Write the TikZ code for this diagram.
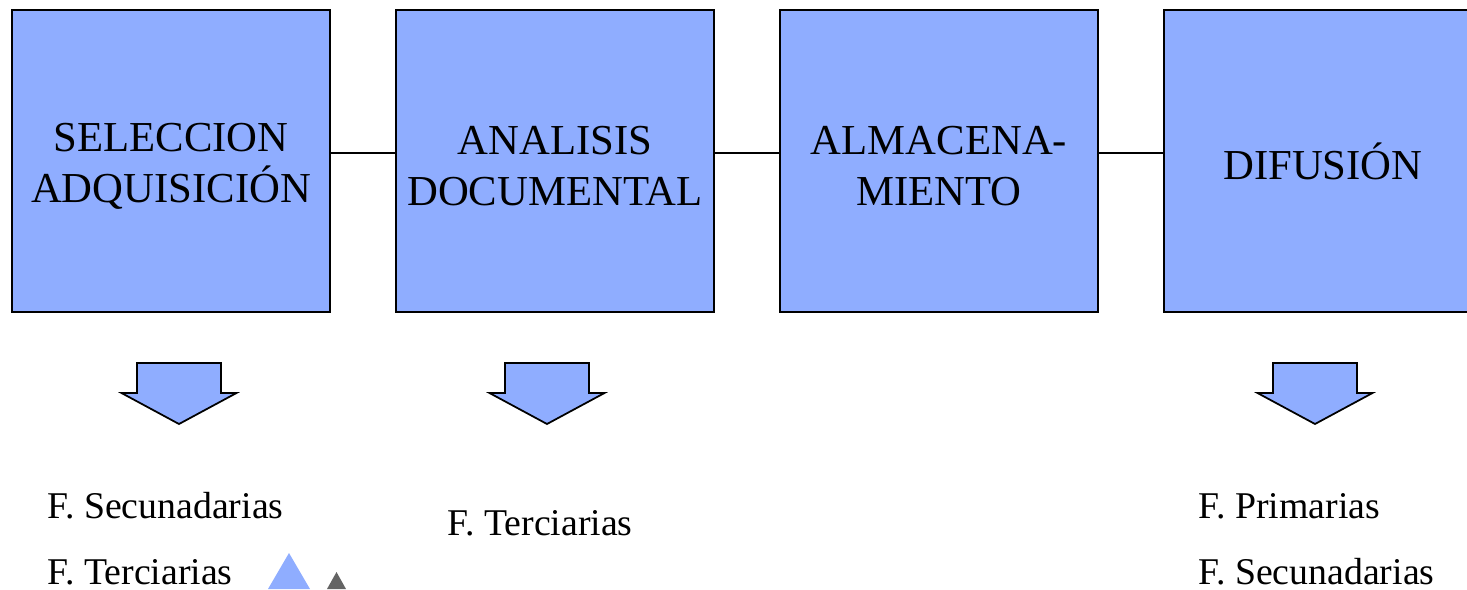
\documentclass[tikz,border=0pt]{standalone}
\usepackage{fontspec}
\setmainfont{Liberation Serif}
\usepackage{xcolor}
\usepackage{tikz}

\definecolor{boxblue}{RGB}{143,173,255}
\definecolor{tridark}{RGB}{100,100,100}

\begin{document}
\begin{tikzpicture}[x=0.02cm, y=-0.02cm,
  stage/.style={draw, line width=1pt, fill=boxblue, minimum width=6.36cm,
    minimum height=6.04cm, inner sep=0pt},
  stagetext/.style={align=center, inner sep=0pt, font=\fontsize{24.3}{29}\selectfont},
  source/.style={anchor=base west, inner sep=0pt, font=\fontsize{21.5}{25}\selectfont},
  downarrow/.style={draw, line width=1pt, fill=boxblue, line join=miter}]
 \useasboundingbox (0, 0) rectangle (1467, 589);
 % the four stages
 \node [stage] (sel) at (171, 161) {};
 \node [stage] (ana) at (555, 161) {};
 \node [stage] (alm) at (939, 161) {};
 \node [stage] (dif) at (1323, 161) {};
 \node [stagetext] (seltext) at ([yshift=-0.1cm]sel.center) {SELECCION\\ADQUISICIÓN};
 \node [stagetext] (anatext) at ([yshift=-0.1cm]ana.center) {ANALISIS\\DOCUMENTAL};
 \node [stagetext] (almtext) at ([yshift=-0.1cm]alm.center) {ALMACENA-\\MIENTO};
 \node [stagetext] (diftext) at (dif.center) {DIFUSIÓN};
 \draw [line width=1pt] ([yshift=0.16cm]sel.east) -- ([yshift=0.16cm]ana.west);
 \draw [line width=1pt] ([yshift=0.16cm]ana.east) -- ([yshift=0.16cm]alm.west);
 \draw [line width=1pt] ([yshift=0.16cm]alm.east) -- ([yshift=0.16cm]dif.west);
 % block arrows
 \draw [downarrow] (137, 363) -- (221, 363) -- (221, 393) -- (236.5, 393) -- (179, 424)
   -- (121.5, 393) -- (137, 393) -- cycle;
 \draw [downarrow] (505, 363) -- (589, 363) -- (589, 393) -- (604.5, 393) -- (547, 424)
   -- (489.5, 393) -- (505, 393) -- cycle;
 \draw [downarrow] (1273, 363) -- (1357, 363) -- (1357, 393) -- (1372.5, 393) -- (1315, 424)
   -- (1257.5, 393) -- (1273, 393) -- cycle;
 % sources
 \node [source] (sec1) at (47, 518) {F. Secunadarias};
 \node [source] (ter1) at (47, 584) {F. Terciarias};
 \node [source] (ter2) at (447, 535) {F. Terciarias};
 \node [source] (pri4) at (1198, 518) {F. Primarias};
 \node [source] (sec4) at (1198, 584) {F. Secunadarias};
 \fill [boxblue] (268, 589) -- (310, 589) -- (289, 553) -- cycle;
 \fill [tridark] (327, 589) -- (346, 589) -- (336.5, 572) -- cycle;
\end{tikzpicture}
\end{document}
